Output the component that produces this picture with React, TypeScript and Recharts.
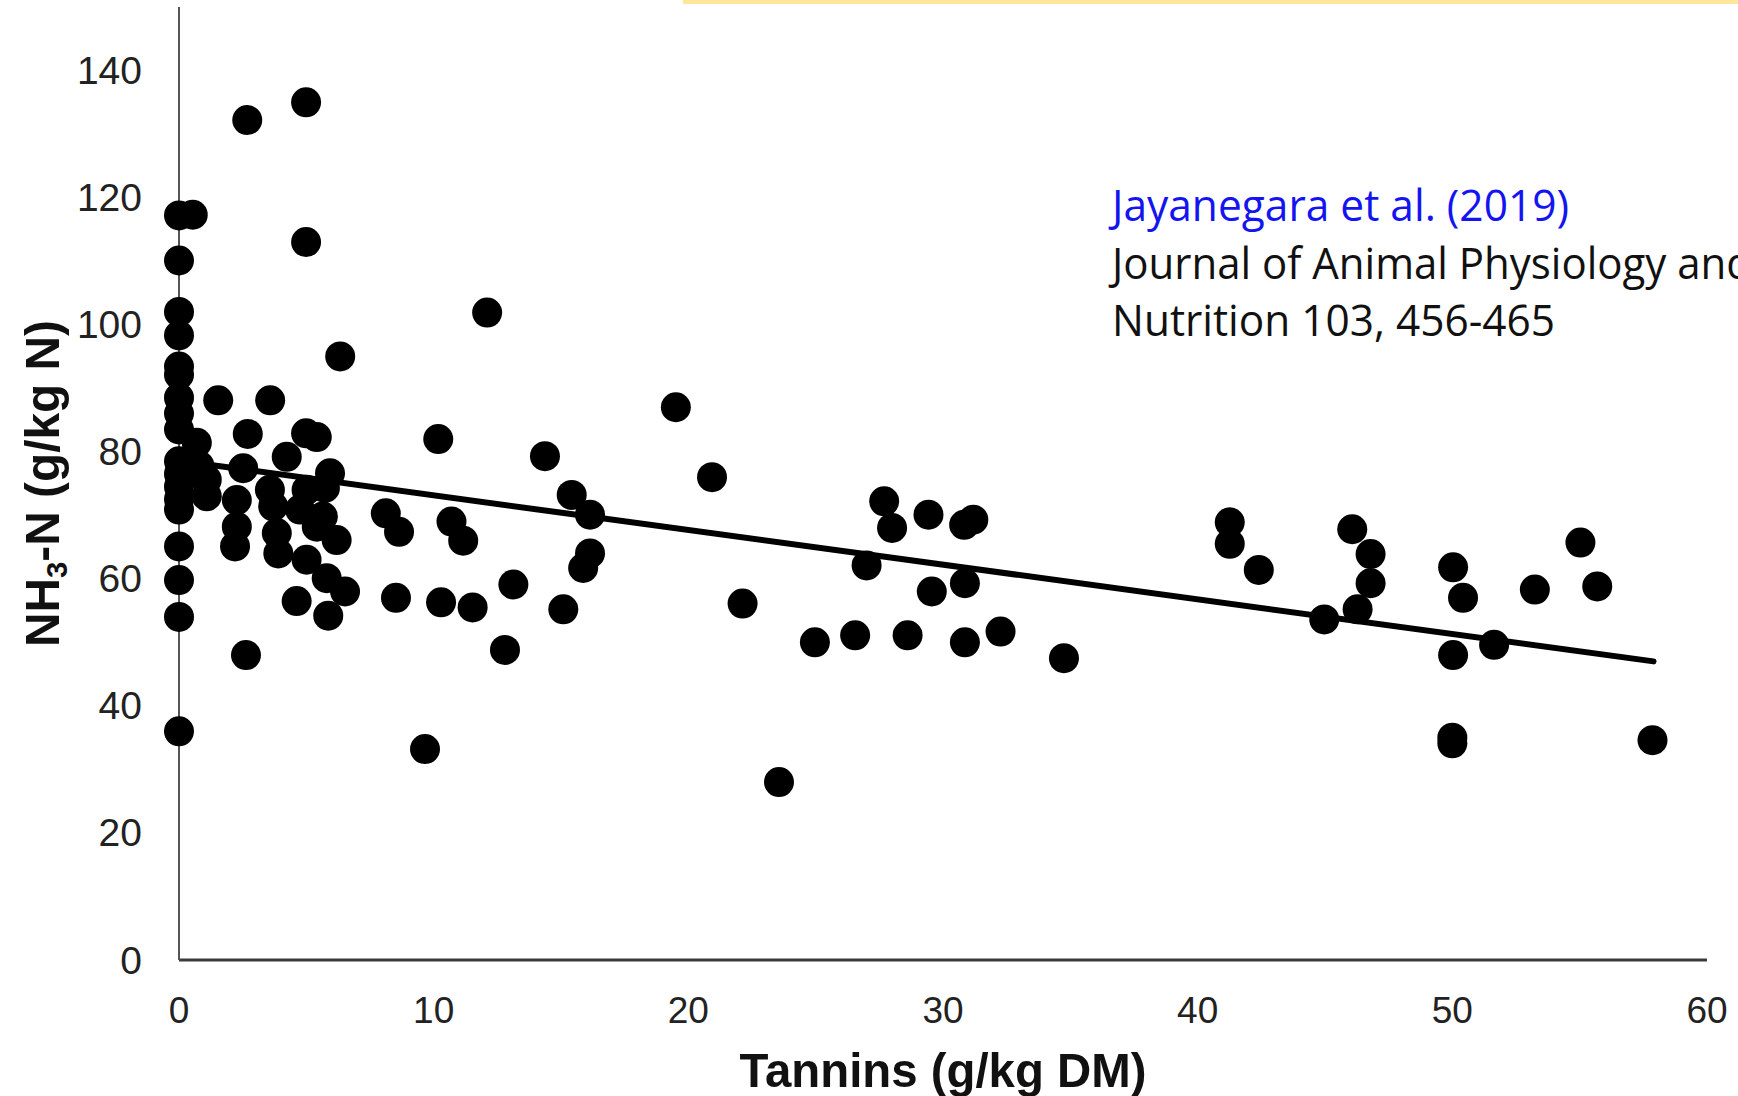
import React from 'react';
import {
  ScatterChart,
  Scatter,
  XAxis,
  YAxis,
  ReferenceLine,
} from 'recharts';

// Tannin content (g/kg DM) of each observation
const tannins = [
  0, 0, 0, 0, 0, 0, 0, 0, 0, 0, 0, 0, 0, 0, 0, 0, 0, 0,
  0.54, 0.7, 0.8, 1.09, 1.09,
  2.68, 4.99, 4.99, 12.1, 6.33, 1.54, 3.58, 2.7, 4.99, 5.41, 10.18, 14.37,
  4.23, 2.52, 5.93, 3.57, 5.01, 5.73, 2.27, 2.27, 2.2, 3.7, 3.84, 3.9,
  4.75, 5.41, 5.65, 6.19, 5.01, 5.8, 6.52, 4.62, 5.86, 8.12, 8.64, 10.7,
  11.16, 8.52, 10.29, 11.53, 13.13, 2.63, 9.66, 12.8, 15.09, 15.42, 16.14,
  16.14, 15.87, 19.51, 20.93, 22.13, 23.56, 24.97, 26.55, 27.0, 27.69, 28.0,
  28.61, 29.43, 29.56, 30.83, 31.19, 30.86, 30.86, 32.26, 34.75, 41.26,
  41.26, 42.4, 44.97, 46.07, 46.79, 46.79, 46.28, 50.03, 50.42, 50.03, 50.0,
  50.0, 51.64, 53.24, 55.03, 55.69, 57.86,
];

// NH3-N (g/kg N) for the same observations
const ammonia = [
  117.2, 110.1, 102.0, 98.3, 93.4, 92.1, 88.5, 86.0, 83.5, 78.5, 76.5, 74.5,
  72.5, 70.9, 65.1, 59.8, 54.0, 36.0,
  117.3, 81.4, 77.8, 75.6, 73.0,
  132.2, 135.0, 113.0, 101.9, 95.0, 88.1, 88.1, 82.8, 82.9, 82.3, 82.0, 79.3,
  79.2, 77.4, 76.6, 74.0, 74.0, 74.3, 72.4, 68.2, 65.1, 71.4, 67.2, 64.0,
  70.9, 68.2, 69.8, 66.1, 63.0, 60.1, 58.0, 56.5, 54.2, 70.3, 67.4, 69.0,
  66.0, 57.0, 56.3, 55.5, 59.1, 48.0, 33.2, 48.8, 55.2, 73.2, 70.1,
  64.0, 61.7, 87.0, 76.0, 56.1, 28.0, 50.0, 51.1, 62.1, 72.2, 68.0,
  51.1, 70.1, 58.0, 68.5, 69.3, 59.3, 50.0, 51.7, 47.5, 68.9,
  65.5, 61.4, 53.6, 67.8, 63.9, 59.3, 55.2, 61.8, 57.0, 48.0, 35.0,
  34.1, 49.6, 58.3, 65.7, 58.8, 34.6,
];

// Linear fit drawn across the observed tannin range
const trendX = [0, 57.9];
const trendY = [78.6, 47.0];

const xTicks = [0, 10, 20, 30, 40, 50, 60];
const yTicks = [0, 20, 40, 60, 80, 100, 120, 140];

const citation = [
  'Jayanegara et al. (2019)',
  'Journal of Animal Physiology and',
  'Nutrition 103, 456-465',
];

const points = tannins.map((t, i) => ({ x: t, y: ammonia[i] }));

const FONT = '"Liberation Sans", Arial, sans-serif';

const Dot = (props: any) => (
  <circle cx={props.cx} cy={props.cy} r={15} fill="#000" />
);

const XTick = ({ x, y, payload }: any) => (
  <text x={x} y={y} textAnchor="middle" dominantBaseline="central" fontSize={37} fill="#222" fontFamily={FONT}>
    {payload.value}
  </text>
);

const YTick = ({ x, y, payload }: any) => (
  <text x={x} y={y} textAnchor="end" dominantBaseline="central" fontSize={39} fill="#222" fontFamily={FONT}>
    {payload.value}
  </text>
);

const XTitle = ({ viewBox }: any) => (
  <text
    x={viewBox.x + viewBox.width / 2}
    y={1087}
    textAnchor="middle"
    fontSize={49}
    fontWeight="bold"
    fill="#111"
    fontFamily={FONT}
    textLength={407}
    lengthAdjust="spacingAndGlyphs"
  >
    Tannins (g/kg DM)
  </text>
);

const YTitle = ({ viewBox }: any) => {
  const cy = viewBox.y + viewBox.height / 2;
  return (
    <text
      transform={`translate(59, ${cy}) rotate(-90)`}
      textAnchor="middle"
      fontSize={49}
      fontWeight="bold"
      fill="#111"
      fontFamily={FONT}
      textLength={327}
      lengthAdjust="spacingAndGlyphs"
    >
      NH<tspan fontSize={30} dy={8}>3</tspan><tspan dy={-8}>-N (g/kg N)</tspan>
    </text>
  );
};

export default function App() {
  return (
    <div style={{ position: 'relative', width: 1738, height: 1096, background: '#fff' }}>
      <style>{'body{margin:0}'}</style>
      <ScatterChart width={1738} height={1096} margin={{ top: 7, right: 31, bottom: 0, left: 0 }}>
        <XAxis
          type="number"
          dataKey="x"
          domain={[0, 60]}
          ticks={xTicks}
          height={136}
          tickSize={0}
          tickMargin={50}
          tick={<XTick />}
          axisLine={{ stroke: '#3a3a3a', strokeWidth: 3 }}
          tickLine={false}
          label={<XTitle />}
        />
        <YAxis
          type="number"
          dataKey="y"
          domain={[0, 150]}
          ticks={yTicks}
          width={179}
          tickSize={0}
          tickMargin={37}
          tick={<YTick />}
          axisLine={{ stroke: '#555', strokeWidth: 2 }}
          tickLine={false}
          label={<YTitle />}
        />
        <ReferenceLine
          segment={[
            { x: trendX[0], y: trendY[0] },
            { x: trendX[1], y: trendY[1] },
          ]}
          stroke="#000"
          strokeWidth={6}
          strokeLinecap="round"
          ifOverflow="visible"
        />
        <Scatter data={points} shape={<Dot />} isAnimationActive={false} />
      </ScatterChart>
      <svg
        width={1738}
        height={1096}
        style={{ position: 'absolute', left: 0, top: 0, pointerEvents: 'none' }}
      >
        <rect x={683} y={0} width={1055} height={4} fill="#FFE699" />
        <g fontFamily='"Open Sans", "Noto Sans", sans-serif' fontSize={44}>
          <text x={1112} y={221} fill="#1414f0" textLength={457} lengthAdjust="spacingAndGlyphs">
            {citation[0]}
          </text>
          <text x={1112} y={279} fill="#111" textLength={640} lengthAdjust="spacingAndGlyphs">
            {citation[1]}
          </text>
          <text x={1112} y={336} fill="#111" textLength={443} lengthAdjust="spacingAndGlyphs">
            {citation[2]}
          </text>
        </g>
      </svg>
    </div>
  );
}
